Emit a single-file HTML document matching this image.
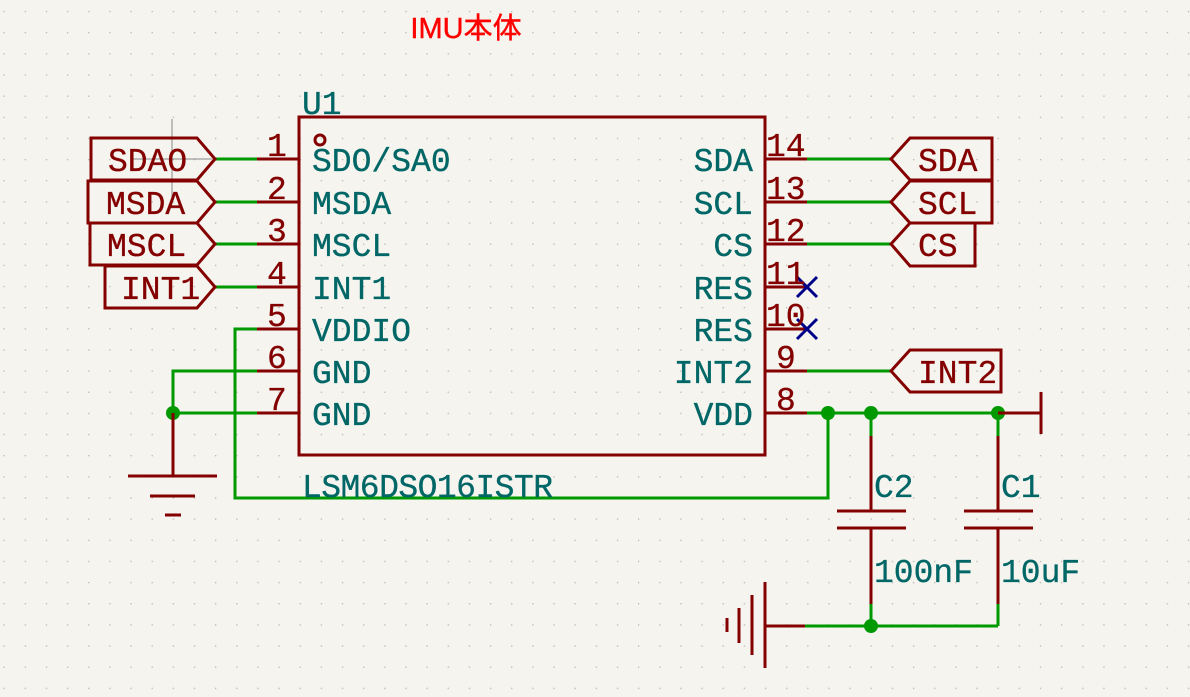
<!DOCTYPE html>
<html><head><meta charset="utf-8"><style>
html,body{margin:0;padding:0;background:#f5f4ef;}
svg{display:block}
.t{font-family:"Liberation Mono",monospace;font-size:33px;stroke-width:0.3px;}
.n{fill:#006666;stroke:#006666}.r{fill:#840000;stroke:#840000}
</style></head><body>
<svg width="1190" height="697" viewBox="0 0 1190 697" xmlns="http://www.w3.org/2000/svg">
<defs><pattern id="g" x="3.5" y="10.9" width="21.15" height="21.15" patternUnits="userSpaceOnUse"><rect x="0" y="0" width="1.3" height="1.3" fill="#b8b8b0"/></pattern></defs>
<rect width="1190" height="697" fill="#f5f4ef"/>
<rect width="1190" height="697" fill="url(#g)"/>
<text x="466" y="38" text-anchor="middle" font-family="Liberation Sans,'Noto Sans CJK JP',sans-serif" font-size="29" fill="#ff0000" stroke="#ff0000" stroke-width="0.4">IMU本体</text>
<g stroke="#888" stroke-width="1"><line x1="172" y1="119" x2="172" y2="198"/><line x1="132" y1="159" x2="212" y2="159"/></g>
<g stroke="#009900" stroke-width="3" fill="none">
<line x1="215" y1="159" x2="257" y2="159"/><line x1="215" y1="202" x2="257" y2="202"/><line x1="215" y1="244" x2="257" y2="244"/><line x1="215" y1="287" x2="257" y2="287"/>
<polyline points="257,329 235,329 235,498 828,498 828,413"/>
<polyline points="257,371 173,371 173,413 257,413"/>
<line x1="807" y1="159" x2="891" y2="159"/><line x1="807" y1="202" x2="891" y2="202"/><line x1="807" y1="244" x2="891" y2="244"/><line x1="807" y1="371" x2="891" y2="371"/>
<line x1="807" y1="413" x2="998" y2="413"/>
<line x1="871" y1="413" x2="871" y2="436"/><line x1="998" y1="413" x2="998" y2="436"/>
<line x1="871" y1="604" x2="871" y2="626"/><line x1="998" y1="604" x2="998" y2="626"/>
<polyline points="805,626 998,626"/>
</g>
<g fill="#009900"><circle cx="173" cy="413" r="7"/><circle cx="828" cy="413" r="7"/><circle cx="871" cy="413" r="7"/><circle cx="998" cy="413" r="7"/><circle cx="871" cy="626" r="7"/></g>
<g stroke="#840000" stroke-width="3" fill="none">
<rect x="299" y="117" width="466" height="338"/>
<circle cx="320" cy="140" r="5"/>
<line x1="257" y1="159" x2="299" y2="159"/><line x1="257" y1="202" x2="299" y2="202"/><line x1="257" y1="244" x2="299" y2="244"/><line x1="257" y1="287" x2="299" y2="287"/><line x1="257" y1="329" x2="299" y2="329"/><line x1="257" y1="371" x2="299" y2="371"/><line x1="257" y1="413" x2="299" y2="413"/>
<line x1="765" y1="159" x2="807" y2="159"/><line x1="765" y1="202" x2="807" y2="202"/><line x1="765" y1="244" x2="807" y2="244"/><line x1="765" y1="287" x2="807" y2="287"/><line x1="765" y1="329" x2="807" y2="329"/><line x1="765" y1="371" x2="807" y2="371"/><line x1="765" y1="413" x2="807" y2="413"/>
<polygon points="91,138 197,138 215,159 197,180 91,180"/>
<polygon points="88,181 197,181 215,202 197,223 88,223"/>
<polygon points="90,223 197,223 215,244 197,265 90,265"/>
<polygon points="105,266 197,266 215,287 197,308 105,308"/>
<polygon points="891,159 910,138 992,138 992,180 910,180"/>
<polygon points="891,202 910,181 992,181 992,223 910,223"/>
<polygon points="891,244 910,223 975,223 975,266 910,266"/>
<polygon points="891,371 910,350 1001,350 1001,392 910,392"/>
<line x1="173" y1="413" x2="173" y2="476"/>
<line x1="128" y1="476" x2="217" y2="476"/><line x1="150" y1="496" x2="195" y2="496"/><line x1="165" y1="515" x2="181" y2="515"/>
<line x1="998" y1="413" x2="1041" y2="413"/><line x1="1041" y1="392" x2="1041" y2="434"/>
<line x1="871" y1="436" x2="871" y2="511"/><line x1="837" y1="511" x2="906" y2="511"/><line x1="837" y1="528" x2="906" y2="528"/><line x1="871" y1="528" x2="871" y2="604"/>
<line x1="998" y1="436" x2="998" y2="511"/><line x1="964" y1="511" x2="1033" y2="511"/><line x1="964" y1="528" x2="1033" y2="528"/><line x1="998" y1="528" x2="998" y2="604"/>
<line x1="765" y1="626" x2="805" y2="626"/>
<line x1="765" y1="582" x2="765" y2="668"/><line x1="752" y1="595" x2="752" y2="655"/><line x1="739" y1="608" x2="739" y2="643"/><line x1="727" y1="618" x2="727" y2="632"/>
</g>
<g stroke="#000088" stroke-width="3"><line x1="797" y1="277" x2="817" y2="297"/><line x1="817" y1="277" x2="797" y2="297"/><line x1="797" y1="319" x2="817" y2="339"/><line x1="817" y1="319" x2="797" y2="339"/></g>
<g class="t r">
<text x="267" y="156">1</text><text x="267" y="199">2</text><text x="267" y="241">3</text><text x="267" y="284">4</text><text x="267" y="326">5</text><text x="267" y="368">6</text><text x="267" y="410">7</text>
<text x="766" y="156">14</text><text x="766" y="199">13</text><text x="766" y="241">12</text><text x="766" y="284">11</text><text x="766" y="326">10</text><text x="776" y="368">9</text><text x="776" y="410">8</text>
<text x="108" y="171">SDAO</text><text x="106" y="214">MSDA</text><text x="107" y="256">MSCL</text><text x="121" y="299">INT1</text>
<text x="918" y="171">SDA</text><text x="918" y="214">SCL</text><text x="918" y="256">CS</text><text x="918" y="383">INT2</text>
</g>
<g class="t n">
<text x="312" y="171">SDO/SA0</text><text x="312" y="214">MSDA</text><text x="312" y="256">MSCL</text><text x="312" y="299">INT1</text><text x="312" y="341">VDDIO</text><text x="312" y="383">GND</text><text x="312" y="425">GND</text>
<g text-anchor="end"><text x="753" y="171">SDA</text><text x="753" y="214">SCL</text><text x="753" y="256">CS</text><text x="753" y="299">RES</text><text x="753" y="341">RES</text><text x="753" y="383">INT2</text><text x="753" y="425">VDD</text></g>
<text x="302" y="114">U1</text><text x="302" y="497" textLength="251">LSM6DSO16ISTR</text>
<text x="874" y="497">C2</text><text x="874" y="582">100nF</text><text x="1001" y="497">C1</text><text x="1001" y="582">10uF</text>
</g>
</svg>
</body></html>
